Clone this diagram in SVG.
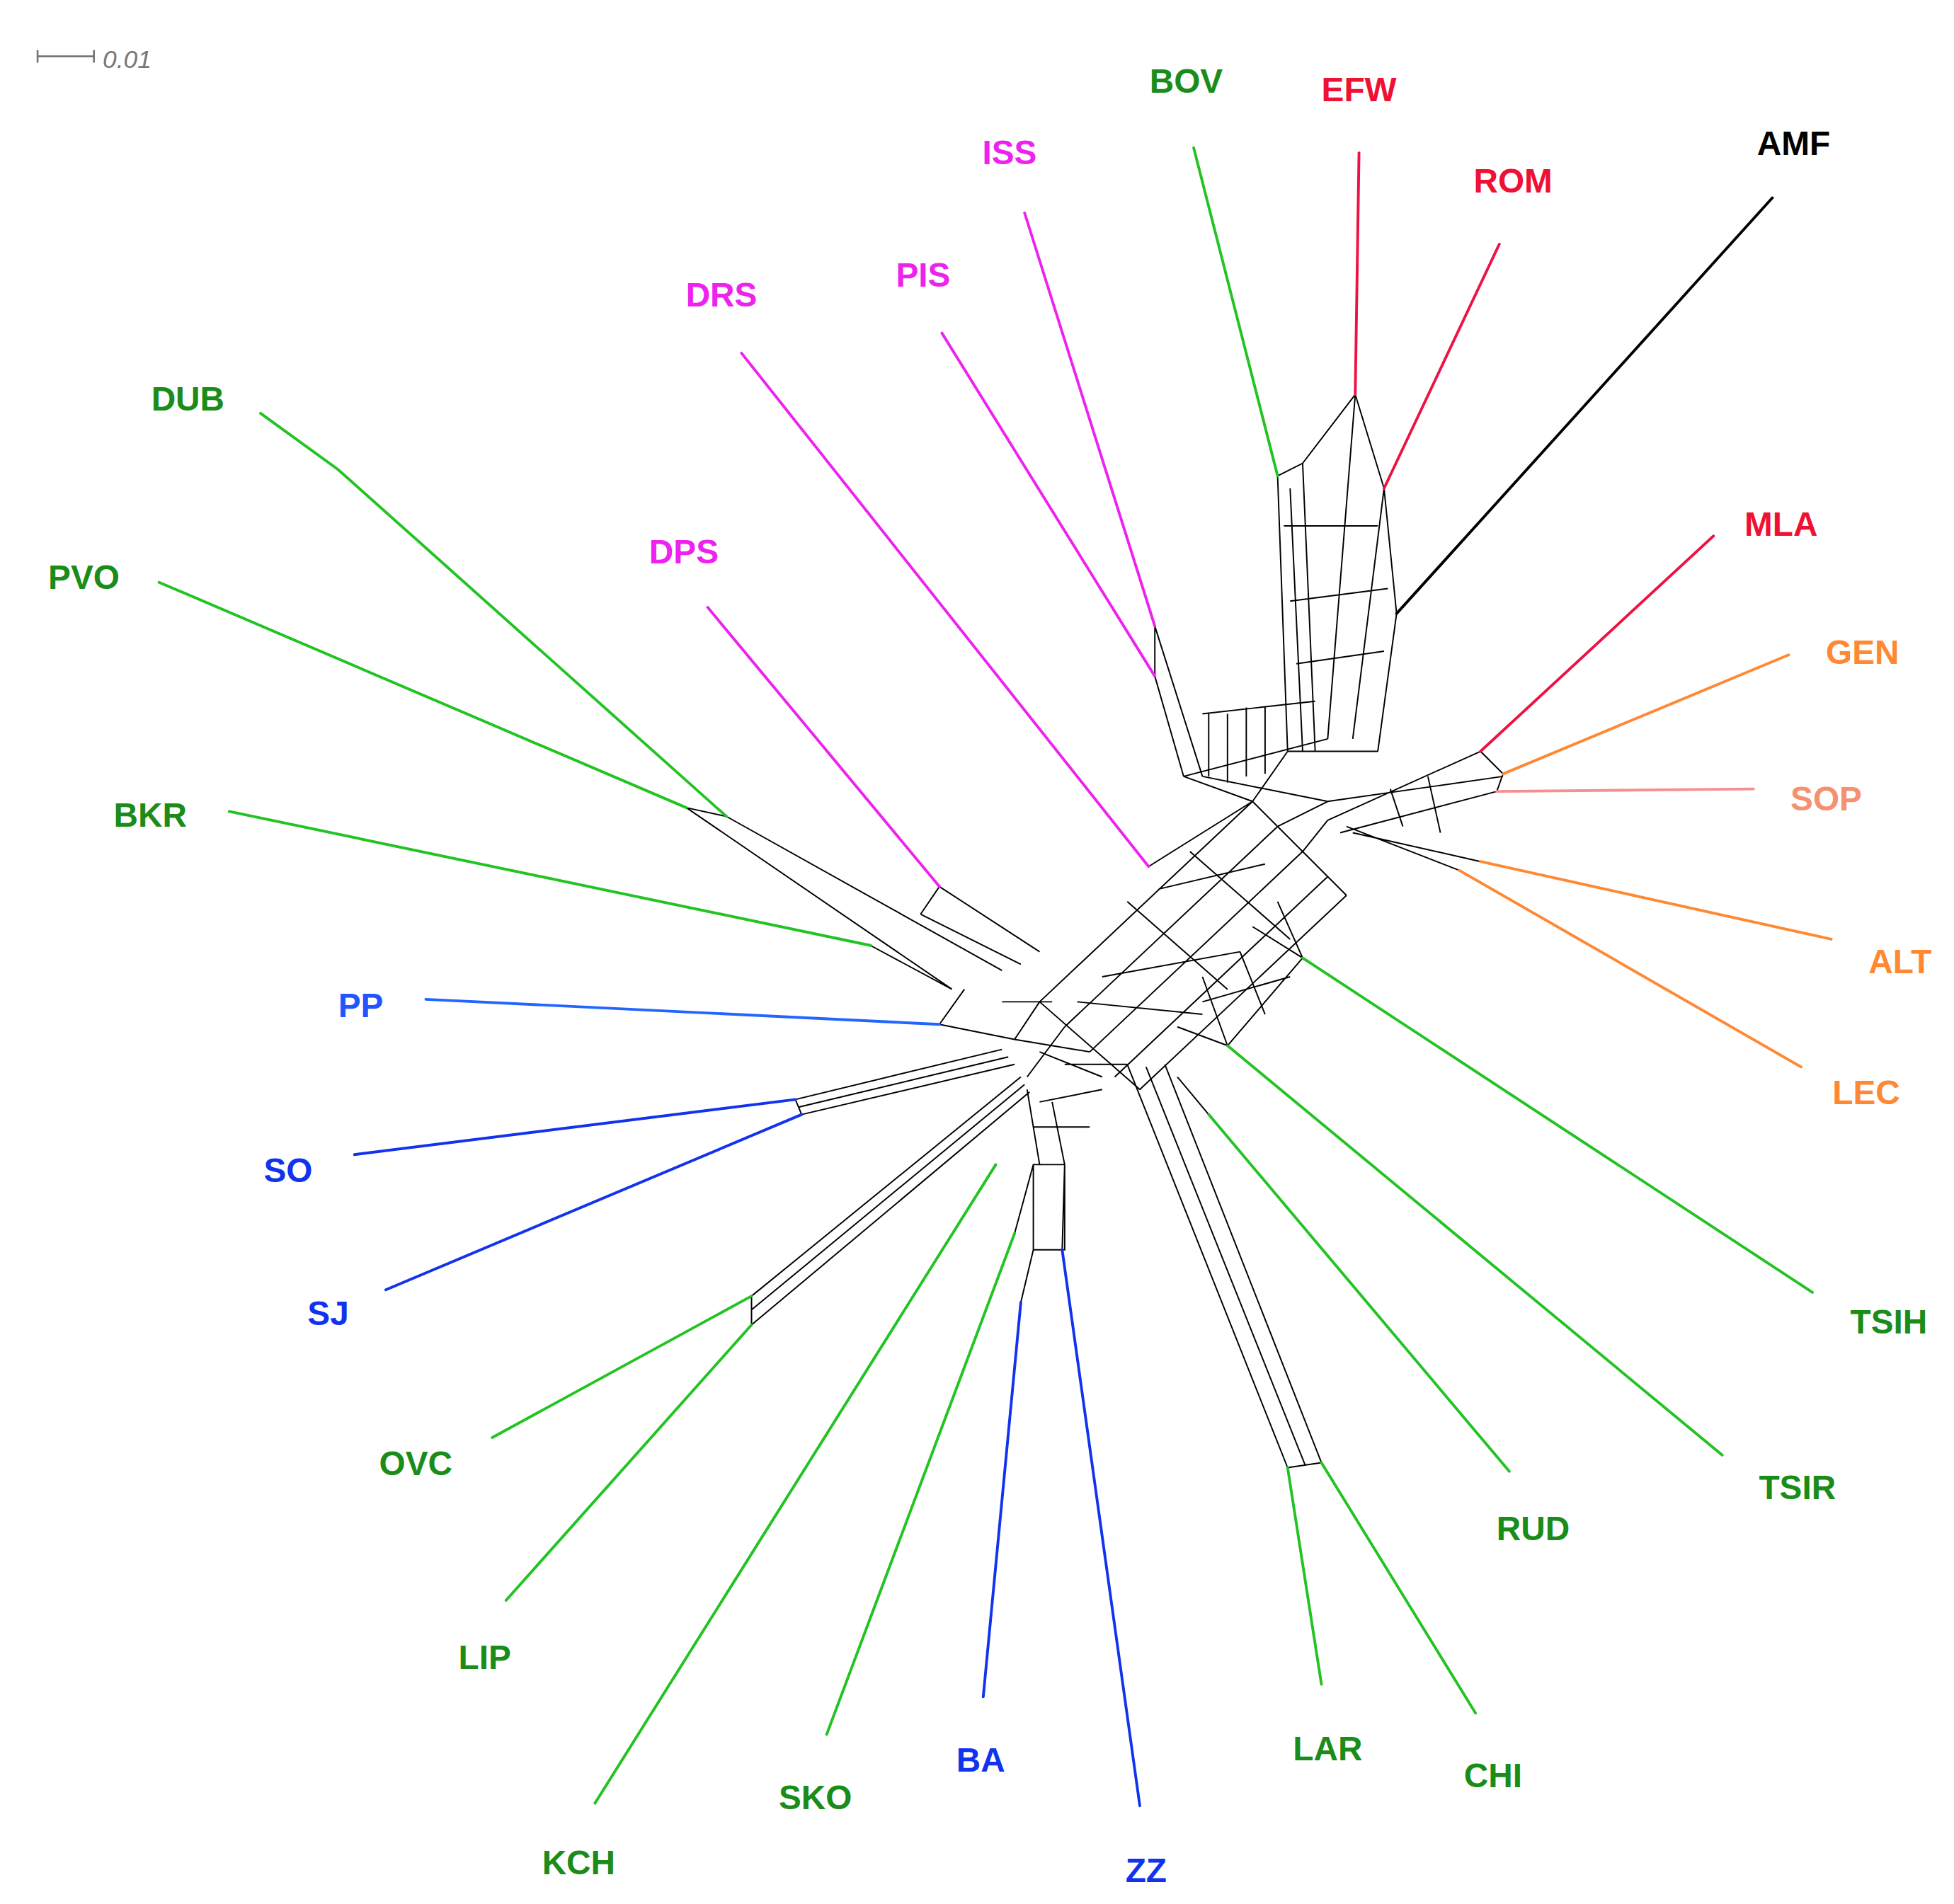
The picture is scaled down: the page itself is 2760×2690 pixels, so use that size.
<svg xmlns="http://www.w3.org/2000/svg" width="2760" height="2690" viewBox="0 0 2760 2690">
<style>
.l{fill:none;stroke-width:2.2;stroke-linecap:round}
.m{fill:none;stroke:#000;stroke-width:1.1}
text{font-family:"Liberation Sans",Arial,sans-serif;font-weight:bold;font-size:27px;text-anchor:middle}
.g{stroke:#22c322}.gt{fill:#1a8c1a}
.r{stroke:#ee1144}.rt{fill:#ee1133}
.p{stroke:#ee22ee}.pt{fill:#ee22ee}
.b{stroke:#1133ee}.bt{fill:#1133ee}
.o{stroke:#ff8833}.ot{fill:#ff8833}
</style>
<rect width="2760" height="2690" fill="#fff"/>
<g transform="scale(1.7692)">
<g id="scale"><path d="M30,45H75M30,40V50M75,40V50" stroke="#777" stroke-width="1.5" fill="none"/><text x="82" y="54" style="font-size:20px;font-weight:normal;font-style:italic;fill:#777;text-anchor:start">0.01</text></g>
<g id="network" class="m">
<path d="M1020,380L1028,600M1030,390L1040,600M1040,370L1050,600M1082,315L1060,590M1082,315L1105,390L1080,590M1105,390L1115,490L1100,600M1020,380L1040,370L1082,315M1028,600L1100,600M1025,420L1100,420M1030,480L1108,470M1035,530L1105,520"/>
<path d="M922,500L960,620M922,540L945,620M922,500L922,540M945,620L1060,590M960,570L1050,560M960,620L1060,640M965,570V620M980,570V625M995,565V620M1010,565V618"/>
<path d="M830,800L1000,640M850,820L1020,660M870,840L1040,680M890,860L1060,700M910,870L1075,715M1000,640L1075,715M830,800L910,870M900,720L980,790M950,680L1030,750M917,692L1000,640M1000,640L1028,600M1020,660L1060,640M1040,680L1060,655M945,620L1000,640M925,710L1010,690M880,780L990,760M860,800L960,810"/>
<path d="M1060,640L1200,620M1060,655L1182,600M1070,665L1195,632M1080,665L1182,688M1075,660L1165,695M1182,600L1200,618L1195,632M1110,630L1120,660M1140,620L1150,665"/>
<path d="M1000,740L1040,765M1020,720L1040,765M940,820L980,835M960,780L980,835M980,835L1040,765M960,800L1030,780M990,760L1010,810"/>
<path d="M900,850L1028,1172M915,852L1042,1170M930,850L1055,1168M1028,1172L1055,1168M965,890L940,860"/>
<path d="M600,1035L815,860M600,1046L818,866M600,1058L822,872M600,1035V1058"/>
<path d="M635,878L800,838M638,884L805,844M640,890L810,850M635,878L640,890"/>
<path d="M548,645L580,652M548,645L760,790M580,652L800,775M695,755L760,790M750,708L830,760M735,730L815,770M750,708L735,730M750,818L770,790M750,818L810,830"/>
<path d="M820,870L830,930M840,880L850,930M825,930H850V998H825ZM810,985L825,930M815,1040L825,998M848,998L850,930M825,900H870M830,880L880,870"/>
<path d="M810,830L870,840M810,830L830,800M820,860L850,820M800,800L840,800M830,840L880,860M850,850L900,850"/>
</g>
<g id="BOV"><path class="l g" d="M953,118L1020,380"/><text class="gt" x="947" y="74">BOV</text></g>
<g id="EFW"><path class="l r" d="M1085,122L1082,315"/><text class="rt" x="1085" y="81">EFW</text></g>
<g id="ROM"><path class="l r" d="M1197,195L1105,390"/><text class="rt" x="1208" y="154">ROM</text></g>
<g id="AMF"><path class="l" stroke="#000" d="M1415,158L1115,490"/><text x="1432" y="124">AMF</text></g>
<g id="ISS"><path class="l p" d="M818,170L922,500"/><text class="pt" x="806" y="131">ISS</text></g>
<g id="PIS"><path class="l p" d="M752,266L922,540"/><text class="pt" x="737" y="229">PIS</text></g>
<g id="DRS"><path class="l p" d="M592,282L917,692"/><text class="pt" x="576" y="245">DRS</text></g>
<g id="DPS"><path class="l p" d="M565,485L750,708"/><text class="pt" x="546" y="450">DPS</text></g>
<g id="DUB"><path class="l g" d="M208,330L270,375L580,652"/><text class="gt" x="150" y="328">DUB</text></g>
<g id="PVO"><path class="l g" d="M127,465L548,645"/><text class="gt" x="67" y="470">PVO</text></g>
<g id="BKR"><path class="l g" d="M183,648L695,755"/><text class="gt" x="120" y="660">BKR</text></g>
<g id="PP"><path class="l b" style="stroke:#2266ff" d="M340,798L750,818"/><text class="bt" style="fill:#2255ff" x="288" y="812">PP</text></g>
<g id="SO"><path class="l b" d="M283,922L635,878"/><text class="bt" x="230" y="944">SO</text></g>
<g id="SJ"><path class="l b" d="M308,1030L640,890"/><text class="bt" x="262" y="1058">SJ</text></g>
<g id="OVC"><path class="l g" d="M393,1148L600,1035"/><text class="gt" x="332" y="1178">OVC</text></g>
<g id="LIP"><path class="l g" d="M404,1278L600,1058"/><text class="gt" x="387" y="1333">LIP</text></g>
<g id="KCH"><path class="l g" d="M475,1440L795,930"/><text class="gt" x="462" y="1497">KCH</text></g>
<g id="SKO"><path class="l g" d="M660,1385L810,985"/><text class="gt" x="651" y="1445">SKO</text></g>
<g id="BA"><path class="l b" d="M785,1355L815,1040"/><text class="bt" x="783" y="1415">BA</text></g>
<g id="ZZ"><path class="l b" d="M910,1442L848,998"/><text class="bt" x="915" y="1503">ZZ</text></g>
<g id="LAR"><path class="l g" d="M1055,1345L1028,1172"/><text class="gt" x="1060" y="1406">LAR</text></g>
<g id="CHI"><path class="l g" d="M1178,1368L1055,1168"/><text class="gt" x="1192" y="1427">CHI</text></g>
<g id="RUD"><path class="l g" d="M1205,1175L965,890"/><text class="gt" x="1224" y="1230">RUD</text></g>
<g id="TSIR"><path class="l g" d="M1375,1162L980,835"/><text class="gt" x="1435" y="1197">TSIR</text></g>
<g id="TSIH"><path class="l g" d="M1447,1032L1040,765"/><text class="gt" x="1508" y="1065">TSIH</text></g>
<g id="LEC"><path class="l o" d="M1438,852L1165,695"/><text class="ot" x="1490" y="882">LEC</text></g>
<g id="ALT"><path class="l o" d="M1462,750L1182,688"/><text class="ot" x="1517" y="777">ALT</text></g>
<g id="SOP"><path class="l" stroke="#f59090" d="M1400,630L1195,632"/><text style="fill:#f59070" x="1458" y="647">SOP</text></g>
<g id="GEN"><path class="l o" d="M1428,523L1200,618"/><text class="ot" x="1487" y="530">GEN</text></g>
<g id="MLA"><path class="l r" d="M1368,428L1182,600"/><text class="rt" x="1422" y="428">MLA</text></g>
</g>
</svg>
